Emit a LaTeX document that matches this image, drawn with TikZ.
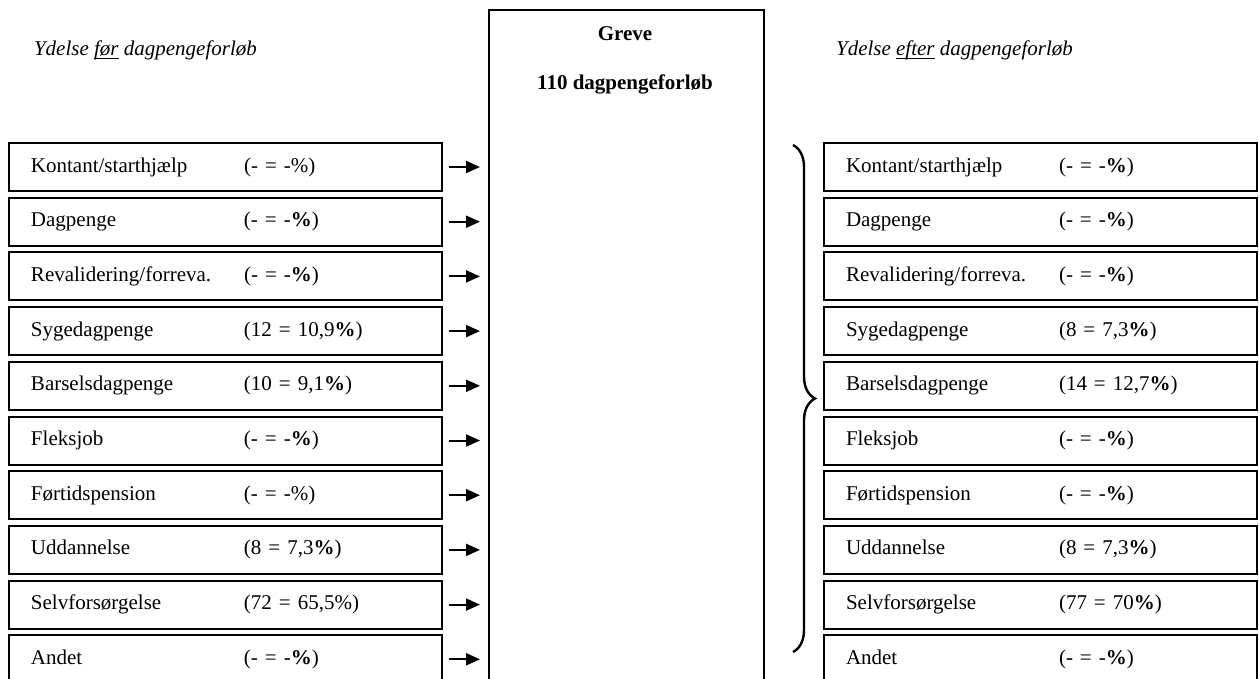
\documentclass[tikz,border=0pt]{standalone}
\usepackage{fontspec}
\setmainfont{Liberation Serif}
\usetikzlibrary{arrows.meta,decorations.pathreplacing}

\newcommand\txtsize{\fontsize{10.5}{12}\selectfont}
\newcommand\bpct{{\bfseries\%}}
\newcommand\ulword[1]{\setbox0\hbox{#1}\rlap{\rule[-1.3pt]{\wd0}{0.5pt}}\box0\relax}

\tikzset{
	rowbox/.style={draw, line width=1pt, anchor=north west, minimum width=216.5pt,
		minimum height=24pt, inner xsep=11pt, text width=194.5pt, align=left},
	arr/.style={line width=1pt, -{Triangle[length=7pt,width=6pt]}},
	head/.style={anchor=base west, font=\txtsize\itshape},
	title/.style={anchor=base, font=\txtsize\bfseries},
}

\begin{document}
\begin{tikzpicture}[x=0.5pt,y=-0.5pt,font=\txtsize]
	%%%%% frame %%%%%
	\useasboundingbox (0,0) rectangle (1259,679);
	\def\pitch{54.7}
	\def\ytop{142}

	\node[head] (hfor) at (27,56) {Ydelse \ulword{før} dagpengeforløb};
	\node[head] (hefter) at (829,56) {Ydelse \ulword{efter} dagpengeforløb};

	% centre column
	\node[draw, line width=1pt, anchor=north west, minimum width=137.5pt, minimum height=360pt] (greve) at (488,9) {};
	\node[title] (kommune) at (625,41) {Greve};
	\node[title] (antal) at (625,90) {110 dagpengeforløb};

	% before
	\foreach \lab/\pct [count=\i] in {
		{Kontant/starthjælp}/{(- = -\%)},
		Dagpenge/{(- = -\bpct)},
		{Revalidering/forreva.}/{(- = -\bpct)},
		Sygedagpenge/{(12 = 10,9\bpct)},
		Barselsdagpenge/{(10 = 9,1\bpct)},
		Fleksjob/{(- = -\bpct)},
		Førtidspension/{(- = -\%)},
		Uddannelse/{(8 = 7,3\bpct)},
		Selvforsørgelse/{(72 = 65,5\%)},
		Andet/{(- = -\bpct)}}
	{
		\node[rowbox] (l\i) at (8,{\ytop+(\i-1)*\pitch}) {\makebox[106.5pt][l]{\lab}\pct};
		\draw[arr] ([xshift=3pt]l\i.east) -- ([xshift=-4pt]l\i.east -| greve.west);
	}

	% after
	\foreach \lab/\pct [count=\i] in {
		{Kontant/starthjælp}/{(- = -\bpct)},
		Dagpenge/{(- = -\bpct)},
		{Revalidering/forreva.}/{(- = -\bpct)},
		Sygedagpenge/{(8 = 7,3\bpct)},
		Barselsdagpenge/{(14 = 12,7\bpct)},
		Fleksjob/{(- = -\bpct)},
		Førtidspension/{(- = -\bpct)},
		Uddannelse/{(8 = 7,3\bpct)},
		Selvforsørgelse/{(77 = 70\bpct)},
		Andet/{(- = -\bpct)}}
	{
		\node[rowbox] (r\i) at (823,{\ytop+(\i-1)*\pitch}) {\makebox[106.5pt][l]{\lab}\pct};
	}

	\coordinate (brtop) at (793,145);
	\coordinate (brbot) at (793,652);
	\draw[line width=1.2pt, decorate, decoration={brace, amplitude=11pt}] (brtop) -- (brbot);
	%%%%% end %%%%%
\end{tikzpicture}
\end{document}
